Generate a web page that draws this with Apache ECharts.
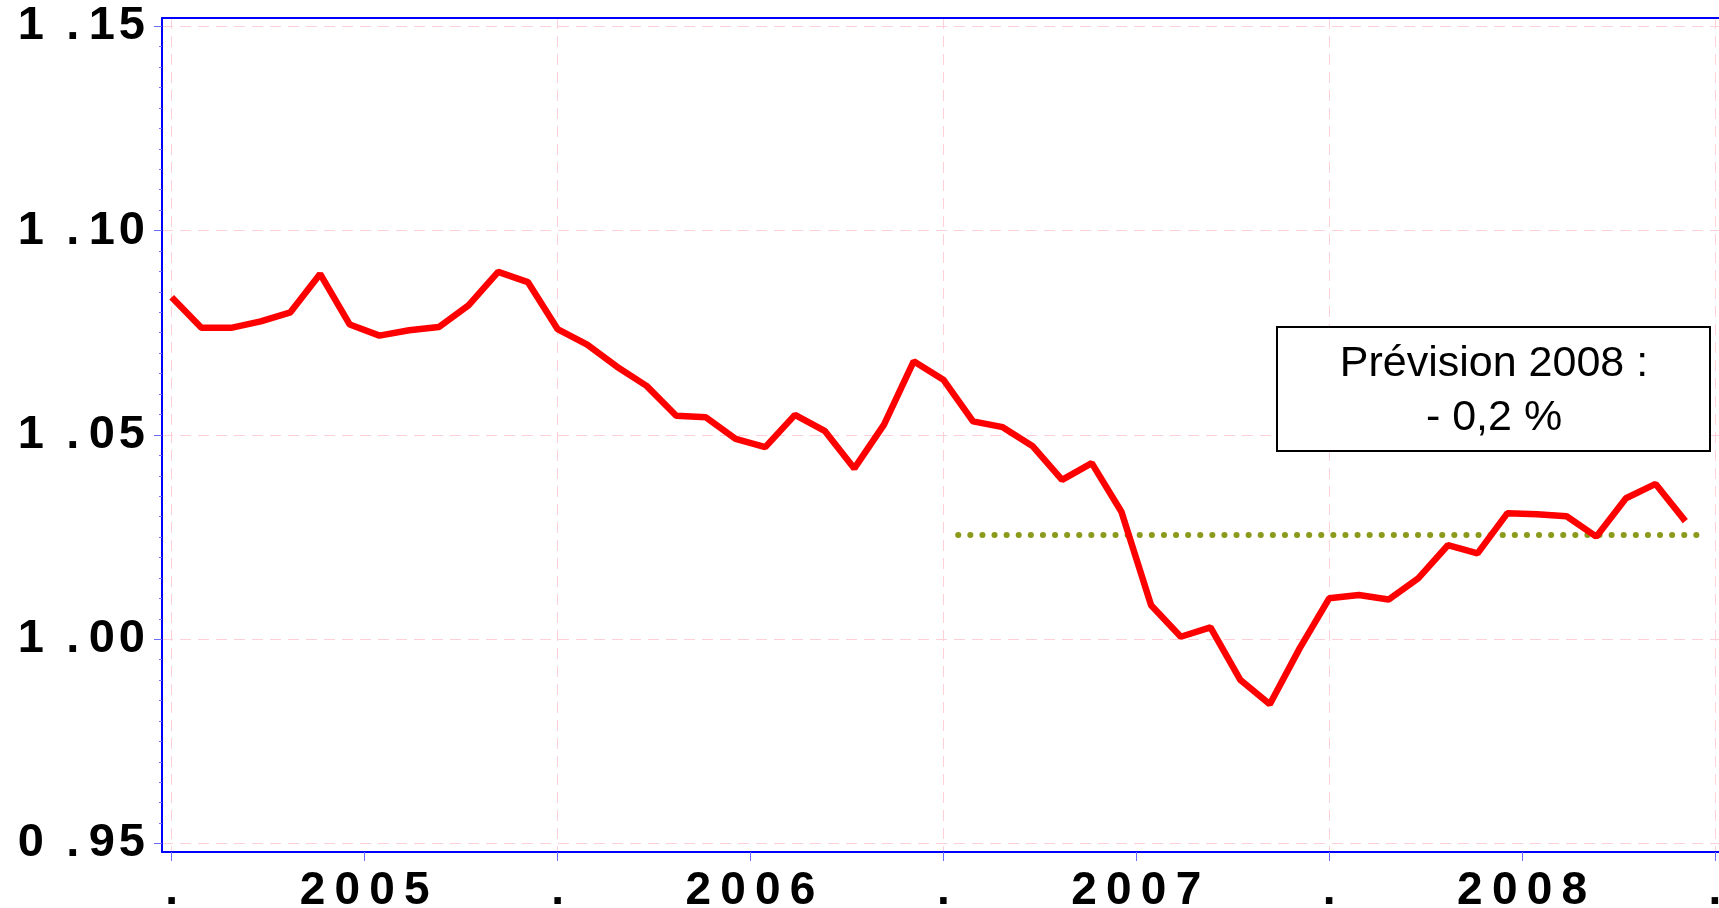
<!DOCTYPE html>
<html>
<head>
<meta charset="utf-8">
<script src="https://cdn.jsdelivr.net/npm/echarts@6/dist/echarts.min.js"></script>
<style>
html, body { margin: 0; padding: 0; background: #fff; }
#main { width: 1719px; height: 908px; }
</style>
</head>
<body>
<div id="main"></div>
<script>
// 13 periodes par an, de debut 2005 a fin 2008
var indexValues = [
	1.0837, 1.0762, 1.0762, 1.0778, 1.0800, 1.0894, 1.0770, 1.0743, 1.0756, 1.0764, 1.0817, 1.0899, 1.0874,
	1.0759, 1.0721, 1.0667, 1.0620, 1.0547, 1.0543, 1.0490, 1.0470, 1.0549, 1.0510, 1.0418, 1.0525, 1.0680,
	1.0635, 1.0533, 1.0519, 1.0473, 1.0390, 1.0431, 1.0312, 1.0083, 1.0006, 1.0029, 0.9901, 0.9841, 0.9977,
	1.0100, 1.0108, 1.0097, 1.0149, 1.0230, 1.0210, 1.0308, 1.0306, 1.0301, 1.0251, 1.0345, 1.0380, 1.0289
];
var forecastLevel = 1.0255;
var forecastFrom = 26.5;
var forecastTo = 51.6;

var yTicks = [0.95, 1.00, 1.05, 1.10, 1.15];
var xTicks = [0, 6.5, 13, 19.5, 26, 32.5, 39, 45.5, 52];
var xTickLabels = ['.', '2005', '.', '2006', '.', '2007', '.', '2008', '.'];
var yearBounds = [0, 13, 26, 39, 52];
var boxLines = ['Prévision 2008 :', '- 0,2 %'];

var minorTicks = [];
for(var t = 950; t <= 1150; t += 5) {
	minorTicks.push(t / 1000);
}

var lineData = [];
for(var i = 0; i < indexValues.length; i++) {
	lineData.push([i, indexValues[i]]);
}

var fontName = '"Liberation Sans", Arial, sans-serif';
var xMin = -0.327, xMax = 52.135;
var yMin = 0.94792, yMax = 1.15203;

function yLabel(v) {
	var s = v.toFixed(2);
	return s.charAt(0) + ' \u2009.\u2009' + s.charAt(2) + '\u200A' + s.charAt(3);
}

function xLabel(v) {
	for(var k = 0; k < xTicks.length; k++) {
		if(Math.abs(xTicks[k] - v) < 0.01) {
			return xTickLabels[k].split('').join('\u2009');
		}
	}
	return '';
}

var chart = echarts.init(document.getElementById('main'));

var option = {
	animation: false,
	backgroundColor: '#fff',
	grid: { left: 162, right: 0, top: 18, bottom: 56, outerBoundsMode: 'none', containLabel: false },
	xAxis: [{
		type: 'value',
		min: xMin,
		max: xMax,
		position: 'bottom',
		axisLine: { show: true, onZero: false, lineStyle: { color: '#0000ff', width: 2 } },
		axisTick: { show: true, customValues: xTicks, length: 9, lineStyle: { color: '#6a6aff', width: 1 } },
		axisLabel: {
			customValues: xTicks,
			formatter: xLabel,
			margin: 16,
			color: '#000',
			fontSize: 46,
			fontWeight: 'bold',
			fontFamily: fontName
		},
		splitLine: { show: false }
	}, {
		type: 'value',
		min: xMin,
		max: xMax,
		position: 'top',
		axisLine: { show: true, onZero: false, lineStyle: { color: '#0000ff', width: 2 } },
		axisTick: { show: false, customValues: yearBounds },
		axisLabel: { show: false },
		splitLine: { show: true, lineStyle: { color: '#ffd0d8', width: 1, type: [11, 7] } }
	}],
	yAxis: [{
		type: 'value',
		min: yMin,
		max: yMax,
		position: 'left',
		axisLine: { show: true, onZero: false, lineStyle: { color: '#0000ff', width: 2 } },
		axisTick: { show: true, customValues: yTicks, length: 8, lineStyle: { color: '#6a6aff', width: 1 } },
		axisLabel: {
			customValues: yTicks,
			formatter: yLabel,
			margin: 17,
			padding: [10, 0, 0, 0],
			color: '#000',
			fontSize: 47,
			fontWeight: 'bold',
			fontFamily: fontName
		},
		splitLine: { show: true, lineStyle: { color: '#ffd0d8', width: 1, type: [11, 7] } }
	}, {
		type: 'value',
		min: yMin,
		max: yMax,
		position: 'left',
		axisLine: { show: false, onZero: false },
		axisTick: { show: true, customValues: minorTicks, length: 3, lineStyle: { color: '#6a6aff', width: 1 } },
		axisLabel: { show: false },
		splitLine: { show: false }
	}],
	series: [{
		name: 'indice',
		type: 'line',
		xAxisIndex: 0,
		yAxisIndex: 0,
		data: lineData,
		symbol: 'none',
		lineStyle: { color: '#ff0000', width: 6.5 },
		z: 5
	}, {
		name: 'prevision',
		type: 'line',
		xAxisIndex: 0,
		yAxisIndex: 0,
		data: [[forecastFrom, forecastLevel], [forecastTo, forecastLevel]],
		symbol: 'none',
		lineStyle: { color: '#8c9a1c', width: 6, type: [0.1, 12], cap: 'round' },
		z: 4
	}],
	graphic: [{
		type: 'rect',
		x: 1277,
		y: 327,
		shape: { width: 433, height: 124 },
		style: { fill: '#fff', stroke: '#000', lineWidth: 2 },
		z: 100
	}, {
		type: 'text',
		x: 1494,
		y: 364,
		style: { text: boxLines[0], fill: '#000', fontSize: 43, fontFamily: fontName, align: 'center', verticalAlign: 'middle' },
		z: 101
	}, {
		type: 'text',
		x: 1494,
		y: 418,
		style: { text: boxLines[1], fill: '#000', fontSize: 43, fontFamily: fontName, align: 'center', verticalAlign: 'middle' },
		z: 101
	}]
};

chart.setOption(option);
</script>
</body>
</html>
